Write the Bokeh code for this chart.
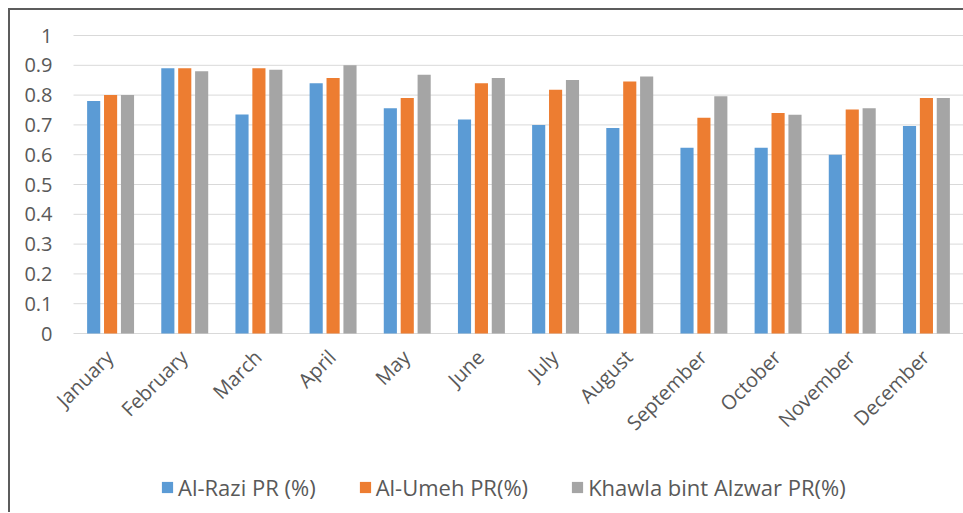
import math
from bokeh.plotting import figure
from bokeh.models import Range1d, Legend, LegendItem, ColumnDataSource, Grid
from bokeh.core.properties import value
from bokeh.transform import dodge
from bokeh.embed import file_html
from bokeh.resources import INLINE

months = ["January", "February", "March", "April", "May", "June", "July",
          "August", "September", "October", "November", "December"]
series_names = ["Al-Razi PR (%)", "Al-Umeh PR(%)", "Khawla bint Alzwar PR(%)"]
al_razi = [0.78, 0.89, 0.735, 0.84, 0.756, 0.718, 0.70, 0.69, 0.623, 0.623, 0.60, 0.696]
al_umeh = [0.80, 0.89, 0.89, 0.857, 0.79, 0.84, 0.818, 0.846, 0.724, 0.74, 0.752, 0.79]
khawla = [0.80, 0.88, 0.885, 0.90, 0.868, 0.857, 0.851, 0.862, 0.796, 0.734, 0.756, 0.79]
y_ticks = [0, 0.1, 0.2, 0.3, 0.4, 0.5, 0.6, 0.7, 0.8, 0.9, 1]
y_tick_labels = ["0", "0.1", "0.2", "0.3", "0.4", "0.5", "0.6", "0.7", "0.8", "0.9", "1"]
colors = ["#5B9BD5", "#ED7D31", "#A5A5A5"]

FONT = "Open Sans"
TXT = "#595959"

# layout (pixels)
PLOT_W, PLOT_H = 953, 502
AREA_LEFT, AREA_TOP, AREA_H = 63, 25, 298
cat_px = (PLOT_W - AREA_LEFT) / len(months)
x_start = -AREA_LEFT / cat_px
y_end = 1 + AREA_TOP / AREA_H
y_start = y_end - PLOT_H / AREA_H

pos = [i + 0.5 for i in range(len(months))]
src = ColumnDataSource(dict(month=months, pos=pos, razi=al_razi, umeh=al_umeh, khawla=khawla))
tsrc = ColumnDataSource(dict(tick=y_ticks, label=y_tick_labels,
                             x0=[0] * len(y_ticks), x1=[len(months)] * len(y_ticks)))

p = figure(x_range=Range1d(x_start, len(months)), y_range=Range1d(y_start, y_end),
           frame_width=PLOT_W, frame_height=PLOT_H, output_backend="svg", toolbar_location=None,
           x_axis_location=None, y_axis_location=None, min_border=0)
p.styles = {"border-top": "2px solid #5c5c5c", "border-left": "2px solid #5c5c5c",
            "margin-left": "8px", "margin-top": "8px"}
p.outline_line_color = None
p.background_fill_color = "white"
p.border_fill_color = "white"
for r in p.renderers:
    if isinstance(r, Grid):
        r.visible = False
for g in p.center:
    if isinstance(g, Grid):
        g.visible = False

# horizontal gridlines over the category area
p.segment(x0="x0", x1="x1", y0="tick", y1="tick", source=tsrc, line_color="#D9D9D9", line_width=1)

# value tick labels
p.text(x="x0", y="tick", text="label", source=tsrc, x_offset=-21,
       text_align="right", text_baseline="middle",
       text_font=value(FONT), text_font_size="20px", text_color=TXT)

offs = [-0.228, 0.0, 0.228]
fields = ["razi", "umeh", "khawla"]
rends = []
for f, o, c in zip(fields, offs, colors):
    r = p.vbar(x=dodge("pos", o), top=f, width=0.177, source=src,
               fill_color=c, line_color=None)
    rends.append(r)

# month category labels, rotated 45 degrees under the zero line
p.text(x="pos", y=0, text="month", source=src, angle=math.pi / 4,
       text_align="right", text_baseline="middle", x_offset=-1, y_offset=20,
       text_font=value(FONT), text_font_size="20px", text_color=TXT)

legend = Legend(items=[LegendItem(label=n, renderers=[r]) for n, r in zip(series_names, rends)],
                orientation="horizontal", location=(150, 10),
                label_text_font=FONT, label_text_font_size="22px", label_text_color=TXT,
                glyph_width=14, glyph_height=14, label_standoff=4, spacing=42,
                border_line_color=None, background_fill_alpha=0, padding=2, margin=0)
p.add_layout(legend, "center")

open("out.html", "w").write(file_html(p, INLINE))
